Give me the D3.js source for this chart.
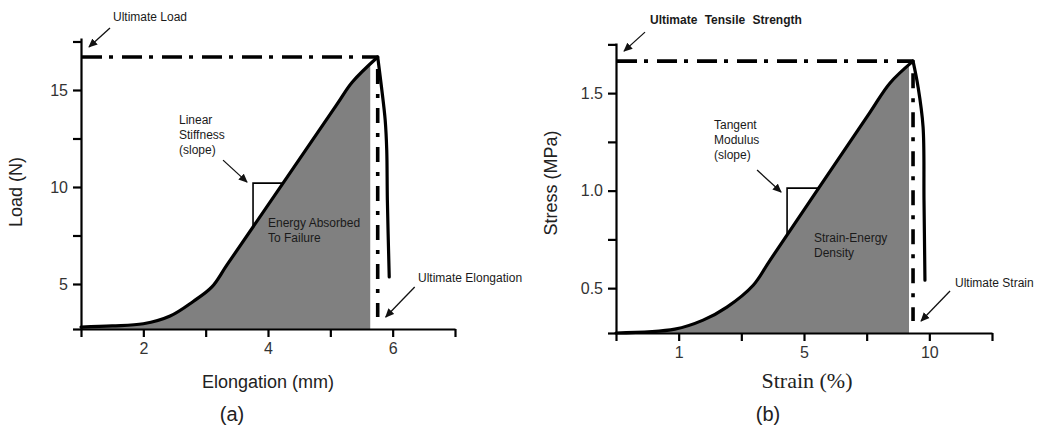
<!DOCTYPE html>
<html>
<head>
<meta charset="utf-8">
<script src="https://cdn.jsdelivr.net/npm/d3@7"></script>
<style>
  html, body { margin: 0; padding: 0; background: #fff; }
  svg { display: block; font-family: "Liberation Sans", Arial, sans-serif; }
</style>
</head>
<body>
<svg id="chart" width="1037" height="433"></svg>
<script>
// ---- Panel (a): load vs. elongation ----
const elongation = [1.0, 1.5, 2.0, 2.43, 2.8, 3.1, 3.35, 5.1, 5.35, 5.76, 5.82, 5.88, 5.905, 5.915, 5.945];
const load       = [2.78, 2.84, 2.95, 3.35, 4.1, 4.85, 6.02, 14.23, 15.4, 16.7, 15.17, 13.45, 11.9, 9.33, 5.36];
const elongationTicks      = [1, 2, 3, 4, 5, 6, 7];
const elongationTickLabels = ["", "2", "", "4", "", "6", ""];
const loadTicks      = [5, 7.5, 10, 12.5, 15, 17.5];
const loadTickLabels = ["5", "", "10", "", "15", ""];
const energyEdgeA  = 5.64;          // right edge of the shaded energy area
const stiffnessA   = [3.76, 10.2];  // corner of the slope indicator

// ---- Panel (b): stress vs. strain ----
const strainPos = [0, 0.94, 1.39, 1.77, 2.19, 2.46, 4.05, 4.37, 4.74, 4.82, 4.9, 4.915, 4.93];
const stress    = [0.27, 0.29, 0.336, 0.403, 0.515, 0.644, 1.40, 1.551, 1.664, 1.532, 1.327, 0.951, 0.541];
const strainTicks      = [0, 1, 2, 3, 4, 5, 6];
const strainTickLabels = ["", "1", "", "5", "", "10", ""];
const stressTicks      = [0.5, 0.75, 1.0, 1.25, 1.5, 1.75];
const stressTickLabels = ["0.5", "", "1.0", "", "1.5", ""];
const energyEdgeB = 4.675;
const tangentB    = [2.73, 1.013];

const svg = d3.select("#chart");

const defs = svg.append("defs");
defs.append("marker")
  .attr("id", "arrow")
  .attr("viewBox", "0 0 10 10")
  .attr("refX", 9).attr("refY", 5)
  .attr("markerWidth", 9).attr("markerHeight", 9)
  .attr("markerUnits", "userSpaceOnUse")
  .attr("orient", "auto")
  .append("path")
  .attr("d", "M0,0.5 L10,5 L0,9.5 Z")
  .attr("fill", "#111");

const smooth = d3.curveCatmullRom.alpha(0.5);

function drawPanel(p) {
  const g = svg.append("g");
  const x = d3.scaleLinear().domain(p.xDomain).range(p.xRange);
  const y = d3.scaleLinear().domain(p.yDomain).range(p.yRange);
  const pts = p.xs.map((v, i) => [v, p.ys[i]]);
  const peakIdx = d3.maxIndex(p.ys);
  const peak = pts[peakIdx];
  const rising = pts.slice(0, peakIdx + 1);
  const falling = pts.slice(peakIdx);
  const x0 = x(p.xDomain[0]);
  const yBase = y(p.yDomain[0]);

  // linear lookup along the rising branch
  const yAt = xv => {
    for (let i = 1; i < rising.length; i++) {
      if (xv <= rising[i][0]) {
        const a = rising[i - 1], b = rising[i];
        return a[1] + (b[1] - a[1]) * (xv - a[0]) / (b[0] - a[0]);
      }
    }
    return peak[1];
  };
  const xAt = yv => {
    for (let i = 1; i < rising.length; i++) {
      if (yv <= rising[i][1]) {
        const a = rising[i - 1], b = rising[i];
        return a[0] + (b[0] - a[0]) * (yv - a[1]) / (b[1] - a[1]);
      }
    }
    return peak[0];
  };

  // shaded energy area
  const clipId = "clip-" + p.id;
  defs.append("clipPath").attr("id", clipId)
    .append("rect")
    .attr("x", x0).attr("y", 0)
    .attr("width", x(p.energyEdge) - x0)
    .attr("height", yBase);
  g.append("path")
    .datum(rising)
    .attr("clip-path", `url(#${clipId})`)
    .attr("d", d3.area().curve(smooth).x(d => x(d[0])).y0(yBase).y1(d => y(d[1])))
    .attr("fill", "#808080");

  // slope indicator
  const [bx, by] = p.box;
  g.append("path")
    .attr("d", `M${x(bx)},${y(yAt(bx))} V${y(by)} H${x(xAt(by))}`)
    .attr("fill", "none").attr("stroke", "#000").attr("stroke-width", 1.6);

  // dash-dot reference lines
  g.append("line")
    .attr("x1", x0 + 1).attr("x2", x(peak[0]))
    .attr("y1", y(peak[1])).attr("y2", y(peak[1]))
    .attr("stroke", "#000").attr("stroke-width", 3.6)
    .attr("stroke-dasharray", "20,7,4,9");
  g.append("line")
    .attr("x1", x(peak[0])).attr("x2", x(peak[0]))
    .attr("y1", y(peak[1]) + 12).attr("y2", yBase - 12)
    .attr("stroke", "#000").attr("stroke-width", 3.6)
    .attr("stroke-dasharray", "15,10,4,10");

  // curve: loading branch and post-failure branch
  const line = d3.line().curve(smooth).x(d => x(d[0])).y(d => y(d[1]));
  [rising, falling].forEach(seg => {
    g.append("path")
      .datum(seg)
      .attr("d", line)
      .attr("fill", "none").attr("stroke", "#000")
      .attr("stroke-width", 3.2)
      .attr("stroke-linejoin", "round").attr("stroke-linecap", "round");
  });

  // axes
  const xAxis = g.append("g")
    .attr("transform", `translate(0,${yBase})`)
    .call(d3.axisBottom(x).tickValues(p.xTicks)
      .tickFormat((d, i) => p.xTickLabels[i])
      .tickSize(8).tickSizeOuter(0).tickPadding(6));
  const yAxis = g.append("g")
    .attr("transform", `translate(${x0},0)`)
    .call(d3.axisLeft(y).tickValues([p.yDomain[0], ...p.yTicks])
      .tickFormat(d => { const i = p.yTicks.indexOf(d); return i < 0 ? "" : p.yTickLabels[i]; })
      .tickSize(8).tickSizeOuter(0).tickPadding(5));
  [xAxis, yAxis].forEach(a => {
    a.select(".domain").attr("stroke", "#000").attr("stroke-width", 2.2);
    a.selectAll(".tick line").attr("stroke", "#000").attr("stroke-width", 2.2);
    a.selectAll(".tick text").attr("fill", "#333").attr("font-size", 16)
      .attr("font-family", '"Liberation Sans", Arial, sans-serif');
  });

  // axis titles
  g.append("text")
    .attr("x", (p.xRange[0] + p.xRange[1]) / 2 + p.xTitleShift).attr("y", 388)
    .attr("text-anchor", "middle")
    .attr("font-family", p.xTitleFont).attr("font-size", p.xTitleSize)
    .attr("fill", "#222").text(p.xTitle);
  g.append("text")
    .attr("transform", `translate(${x0 - 59},${p.yTitleY}) rotate(-90)`)
    .attr("text-anchor", "middle").attr("font-size", 18)
    .attr("fill", "#222").text(p.yTitle);
  g.append("text")
    .attr("x", p.tagX).attr("y", 421)
    .attr("text-anchor", "middle").attr("font-size", 20)
    .attr("fill", "#222").text(p.tag);

  // annotations
  const note = (lines, tx, ty, opts = {}) => {
    const t = g.append("text").attr("font-size", 12).attr("fill", "#1a1a1a")
      .attr("font-weight", opts.bold ? "bold" : null)
      .attr("word-spacing", opts.wordSpacing || null);
    lines.forEach((s, i) => t.append("tspan").attr("x", tx).attr("y", ty + i * 15).text(s));
  };
  const arrow = (tip, dx, dy) => {
    g.append("line")
      .attr("x1", tip[0] + dx).attr("y1", tip[1] + dy)
      .attr("x2", tip[0]).attr("y2", tip[1])
      .attr("stroke", "#111").attr("stroke-width", 1.3)
      .attr("marker-end", "url(#arrow)");
  };

  const a = p.notes;
  note([a.peakLabel], a.peakText[0], a.peakText[1], a.peakOpts);
  arrow([x0 + 8, y(peak[1]) - 10], 21, -19);

  note(a.slopeLabel, a.slopeText[0], a.slopeText[1]);
  arrow([x(bx) - 6, y(by) + a.slopeTipDy], -24, -22);

  note(a.areaLabel, a.areaText[0], a.areaText[1]);

  note([a.endLabel], a.endText[0], a.endText[1]);
  arrow([x(peak[0]) + 8, yBase - 12], 29, -30);
}

drawPanel({
  id: "a",
  xs: elongation, ys: load,
  xDomain: [1, 7], xRange: [81, 455],
  yDomain: [2.68, 17.68], yRange: [329, 38],
  xTicks: elongationTicks, xTickLabels: elongationTickLabels,
  yTicks: loadTicks, yTickLabels: loadTickLabels,
  energyEdge: energyEdgeA, box: stiffnessA,
  xTitle: "Elongation (mm)", xTitleFont: '"Liberation Sans", Arial, sans-serif',
  xTitleSize: 18, xTitleShift: 0,
  yTitle: "Load (N)", yTitleY: 192,
  tag: "(a)", tagX: 232,
  notes: {
    peakLabel: "Ultimate Load", peakText: [113, 21], peakOpts: {},
    slopeLabel: ["Linear", "Stiffness", "(slope)"], slopeText: [179, 124], slopeTipDy: -1,
    areaLabel: ["Energy Absorbed", "To Failure"], areaText: [268, 227],
    endLabel: "Ultimate Elongation", endText: [418, 282]
  }
});

drawPanel({
  id: "b",
  xs: strainPos, ys: stress,
  xDomain: [0, 6], xRange: [616, 992],
  yDomain: [0.27, 1.757], yRange: [333, 43],
  xTicks: strainTicks, xTickLabels: strainTickLabels,
  yTicks: stressTicks, yTickLabels: stressTickLabels,
  energyEdge: energyEdgeB, box: tangentB,
  xTitle: "Strain (%)", xTitleFont: '"Liberation Serif", "Times New Roman", serif',
  xTitleSize: 22, xTitleShift: 3,
  yTitle: "Stress (MPa)", yTitleY: 183,
  tag: "(b)", tagX: 768,
  notes: {
    peakLabel: "Ultimate Tensile Strength", peakText: [650, 24], peakOpts: { bold: true, wordSpacing: 4 },
    slopeLabel: ["Tangent", "Modulus", "(slope)"], slopeText: [714, 129], slopeTipDy: 4,
    areaLabel: ["Strain-Energy", "Density"], areaText: [814, 242],
    endLabel: "Ultimate Strain", endText: [955, 287]
  }
});
</script>
</body>
</html>
